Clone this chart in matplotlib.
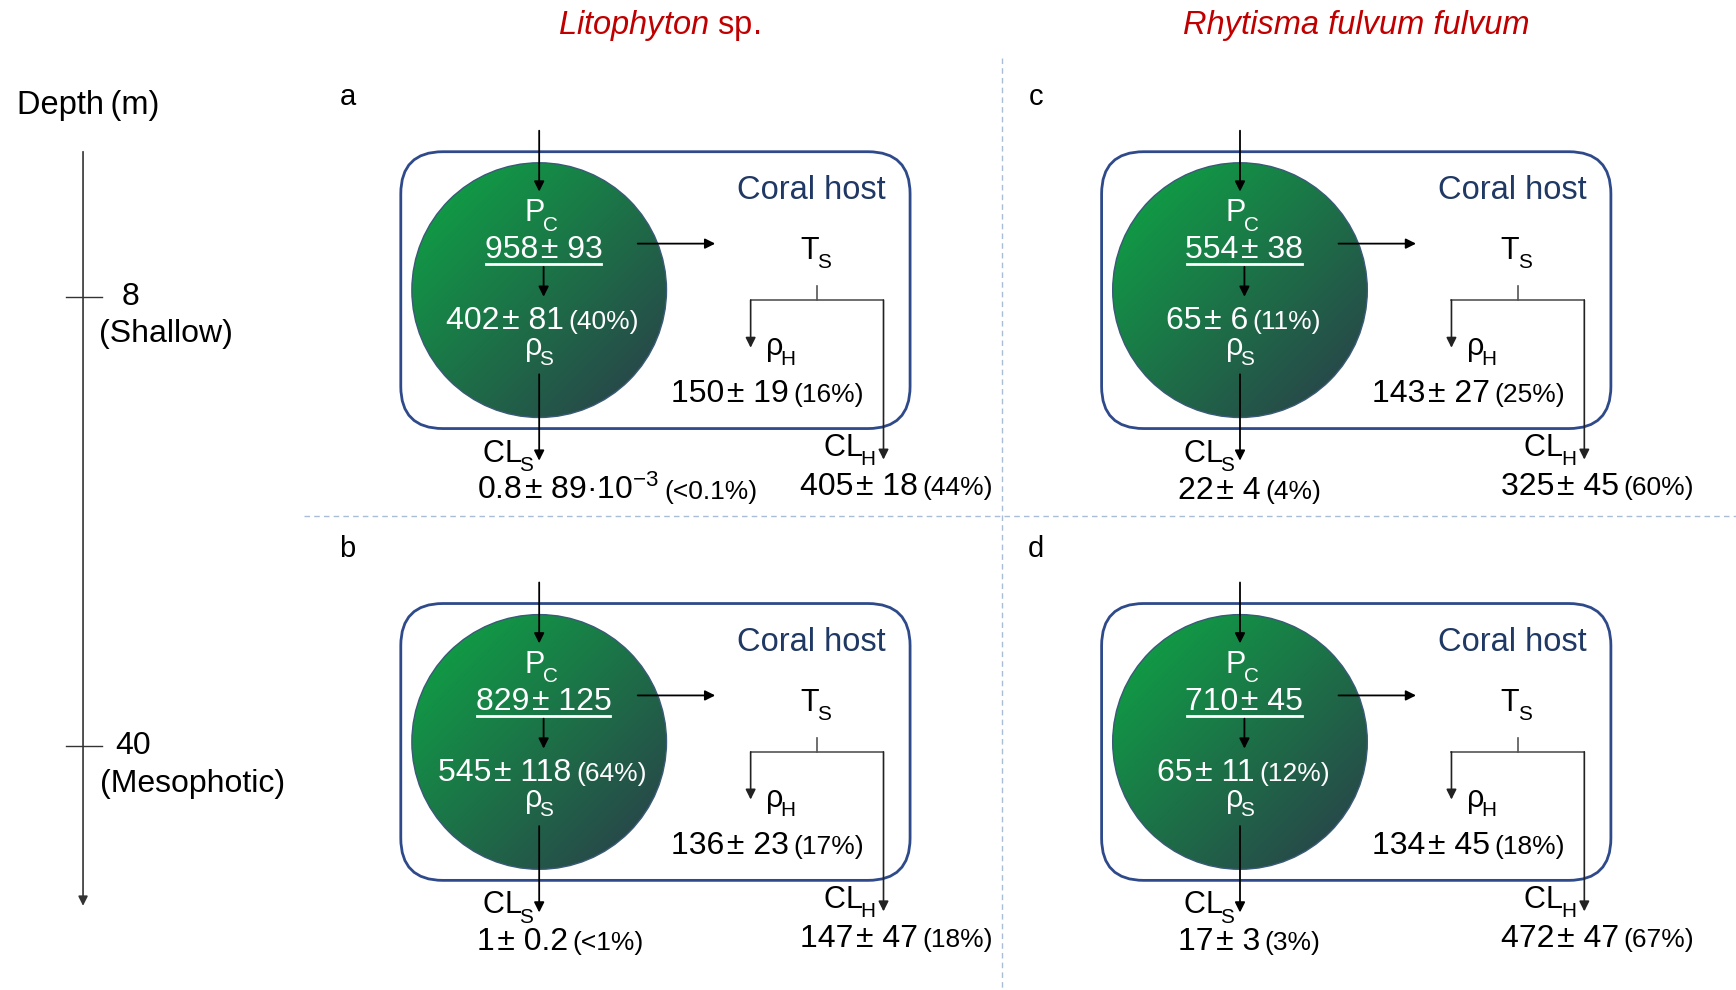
import numpy as np
import matplotlib
matplotlib.use('Agg')
import matplotlib.pyplot as plt
from matplotlib.patches import Circle, FancyBboxPatch

plt.rcParams['font.family'] = ['Liberation Sans', 'DejaVu Sans']
plt.rcParams['mathtext.fontset'] = 'custom'
plt.rcParams['mathtext.rm'] = 'Liberation Sans'
plt.rcParams['mathtext.it'] = 'Liberation Sans:italic'
plt.rcParams['mathtext.bf'] = 'Liberation Sans:bold'

# ---- data (carbon budget per panel) ----
species = ['Litophyton', 'Rhytisma fulvum fulvum']
panel_letters = ['a', 'b', 'c', 'd']
panel_col = [0, 0, 1, 1]
panel_row = [0, 1, 0, 1]
depths = ['8', '40']
depth_names = ['(Shallow)', '(Mesophotic)']

pc_mean = [958, 829, 554, 710]
pc_sd = [93, 125, 38, 45]
rho_s_mean = [402, 545, 65, 65]
rho_s_sd = [81, 118, 6, 11]
rho_s_pct = ['(40%)', '(64%)', '(11%)', '(12%)']
rho_h_mean = [150, 136, 143, 134]
rho_h_sd = [19, 23, 27, 45]
rho_h_pct = ['(16%)', '(17%)', '(25%)', '(18%)']
cls_mean = ['0.8', '1', '22', '17']
cls_sd = ['89\u00b710$^{-3}$', '0.2', '4', '3']
cls_pct = ['(<0.1%)', '(<1%)', '(4%)', '(3%)']
clh_mean = [405, 147, 325, 472]
clh_sd = [18, 47, 45, 47]
clh_pct = ['(44%)', '(18%)', '(60%)', '(67%)']

# ---- figure in preview units (1568 x 894) ----
W, H = 1568, 894
scale = 1736 / W
fig = plt.figure(figsize=(17.36, 9.90), dpi=100)
ax = fig.add_axes([0, 0, 1, 1])
ax.axis('off')
renderer = fig.canvas.get_renderer()

navy = '#1F3864'
red = '#C00000'
boxc = '#2F4A8A'
PM = '\u200a\u00b1 '


def cap(size):
    return 0.716 * size * 100 / 72 / scale


def width(t):
    return t.get_window_extent(renderer).width / scale


def arrow(x0, y0, x1, y1, color='black', lw=1.3):
    ax.annotate('', xy=(x1, y1), xytext=(x0, y0),
                arrowprops=dict(arrowstyle='-|>', color=color, lw=lw,
                                mutation_scale=15, shrinkA=0, shrinkB=0))


def value_text(x, y, main, pct, color, ha='center', size=23, psize=19,
               underline=False):
    base = y + cap(size) / 2
    t1 = ax.text(x, base, main, fontsize=size, color=color, ha='left', va='baseline')
    w1 = width(t1)
    gap = 4
    w2 = 0
    t2 = None
    if pct:
        t2 = ax.text(x, base, pct, fontsize=psize, color=color, ha='left', va='baseline')
        w2 = width(t2) + gap
    left = x - (w1 + w2) / 2 if ha == 'center' else x
    t1.set_x(left)
    if t2 is not None:
        t2.set_x(left + w1 + gap)
    if underline:
        ax.plot([left + 1, left + w1 - 1], [base + 5, base + 5], color=color, lw=2)


def sub_label(x, y, a, b, color='black', size=22):
    # letter with a low, small subscript (mathtext gives ink-tight boxes)
    bsize = size * 0.68
    base = y + cap(size) / 2
    t1 = ax.text(x, base, '$\\mathrm{' + a + '}$', fontsize=size, color=color,
                 ha='left', va='baseline')
    t2 = ax.text(x, base + 0.42 * cap(size), '$\\mathrm{' + b + '}$',
                 fontsize=bsize, color=color, ha='left', va='baseline')
    w1, w2 = width(t1), width(t2)
    left = x - (w1 + w2) / 2
    t1.set_x(left)
    t2.set_x(left + w1 - 2.5)


# gradient for the symbiont circle
gx, gy = np.meshgrid(np.linspace(0, 1, 300), np.linspace(0, 1, 300))
t = np.clip((gx + gy) / 2, 0, 1)[..., None]
c0 = np.array([0.05, 0.66, 0.27])
c1 = np.array([0.17, 0.23, 0.29])
grad = c0 * (1 - t) + c1 * t

for i, letter in enumerate(panel_letters):
    dx = 633 * panel_col[i]
    dy = 408 * panel_row[i]

    ax.text(314 + 622 * panel_col[i], 88 + dy, letter, fontsize=21,
            ha='center', va='center')

    box = FancyBboxPatch((362 + dx, 137 + dy), 460, 250,
                         boxstyle='round,pad=0,rounding_size=38',
                         fc='none', ec=boxc, lw=2, zorder=2)
    ax.add_patch(box)
    ax.text(800 + dx, 172 + dy, 'Coral host', fontsize=23.5, color=navy,
            ha='right', va='center')

    cx, cy, r = 487 + dx, 262 + dy, 115
    circ = Circle((cx, cy), r, fc='none', ec='#3A5A78', lw=1, zorder=3)
    ax.add_patch(circ)
    im = ax.imshow(grad, extent=(cx - r, cx + r, cy + r, cy - r),
                   aspect='auto', zorder=1, interpolation='bilinear')
    im.set_clip_path(circ)

    # carbon flow arrows
    arrow(487 + dx, 118 + dy, 487 + dx, 173 + dy)
    arrow(491 + dx, 241 + dy, 491 + dx, 268 + dy)
    arrow(576 + dx, 220 + dy, 646 + dx, 220 + dy)
    arrow(487 + dx, 338 + dy, 487 + dx, 416 + dy)

    # translocation bracket
    gc = '#555555'
    ax.plot([738 + dx, 738 + dx], [258 + dy, 271 + dy], color=gc, lw=1.2)
    ax.plot([678 + dx, 798 + dx], [271 + dy, 271 + dy], color=gc, lw=1.2)
    arrow(678 + dx, 271 + dy, 678 + dx, 314 + dy, color='#222222', lw=1.2)
    arrow(798 + dx, 271 + dy, 798 + dx, 415 + dy, color='#222222', lw=1.2)

    # labels
    sub_label(490 + dx, 190 + dy, 'P', 'C', 'white')
    value_text(491 + dx, 223 + dy, f'{pc_mean[i]}{PM}{pc_sd[i]}', '', 'white',
               underline=True)
    value_text(490 + dx, 287 + dy, f'{rho_s_mean[i]}{PM}{rho_s_sd[i]}',
               rho_s_pct[i], 'white')
    sub_label(488 + dx, 311 + dy, '\u03c1', 'S', 'white')

    sub_label(738 + dx, 224 + dy, 'T', 'S')
    sub_label(706 + dx, 311 + dy, '\u03c1', 'H')
    value_text(693 + dx, 353 + dy, f'{rho_h_mean[i]}{PM}{rho_h_sd[i]}',
               rho_h_pct[i], 'black')

    sub_label(460 + dx, 407 + dy, 'CL', 'S')
    value_text(431 + dx, 440 + dy, f'{cls_mean[i]}{PM}{cls_sd[i]}', cls_pct[i],
               'black', ha='left')
    sub_label(768 + dx, 402 + dy, 'CL', 'H')
    value_text(810 + dx, 437 + dy, f'{clh_mean[i]}{PM}{clh_sd[i]}',
               clh_pct[i], 'black')

# species titles
ax.text(595, 23, '$\\mathit{' + species[0] + '}$ sp.', fontsize=23.5,
        color=red, ha='center', va='center')
ax.text(1225, 23, species[1], fontsize=23.5, color=red, style='italic',
        ha='center', va='center')

# panel separators
sep = '#A9BED6'
ax.plot([905, 905], [52, H], color=sep, lw=1, ls=(0, (4, 3)))
ax.plot([275, W], [466, 466], color=sep, lw=1, ls=(0, (4, 3)))

# depth axis
ax.text(15, 95, 'Depth\u2009(m)', fontsize=23.5, ha='left', va='center')
ax.annotate('', xy=(75, 818), xytext=(75, 137),
            arrowprops=dict(arrowstyle='-|>', color='#333333', lw=1.2,
                            mutation_scale=14, shrinkA=0, shrinkB=0))
for y, d, name, nx, lx in zip([268, 674], depths, depth_names, [150, 174], [118, 120]):
    ax.plot([60, 92], [y, y], color='#333333', lw=1)
    ax.text(lx, y, d, fontsize=23, ha='center', va='center')
    ax.text(nx, y + 34, name, fontsize=23, ha='center', va='center')

ax.set_xlim(0, W)
ax.set_ylim(H, 0)
fig.savefig('out.png', dpi=100, facecolor='white')
